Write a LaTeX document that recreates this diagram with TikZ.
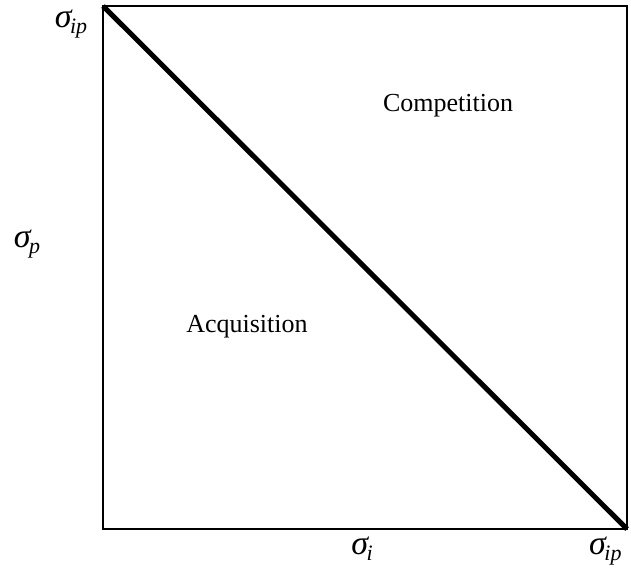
\documentclass[tikz,border=0pt]{standalone}
\usepackage{fontspec}
\setmainfont{Liberation Serif}
\tikzset{
  frame/.style={draw=black, line width=1.6pt},
  diag/.style={draw=black, line width=5pt},
  region/.style={font=\fontsize{26}{30}\selectfont, inner sep=0pt},
  sig/.style={inner sep=0pt}
}
\newcommand{\sig}[1]{{\fontsize{34}{34}\selectfont\itshape σ}\kern-1.5pt\raisebox{-6pt}{\fontsize{22}{22}\selectfont\itshape #1}}
\begin{document}
\begin{tikzpicture}[x=1pt,y=-1pt]
\useasboundingbox (0,0) rectangle (631,579);
\coordinate (tl) at (103,6);
\coordinate (br) at (627,529);
\draw[frame] (tl) rectangle (br);
\draw[diag] (tl) -- (br);
\node[sig] (sip1) at (71,24) {\sig{ip}};
\node[sig] (sp) at (27,244) {\sig{p}};
\node[sig] (si) at (362,549) {\sig{i}};
\node[sig, anchor=west] (sip2) at (589,551) {\sig{ip}};
\node[region] (comp) at (448,106) {Competition};
\node[region] (acq) at (247,327) {Acquisition};
\end{tikzpicture}
\end{document}
